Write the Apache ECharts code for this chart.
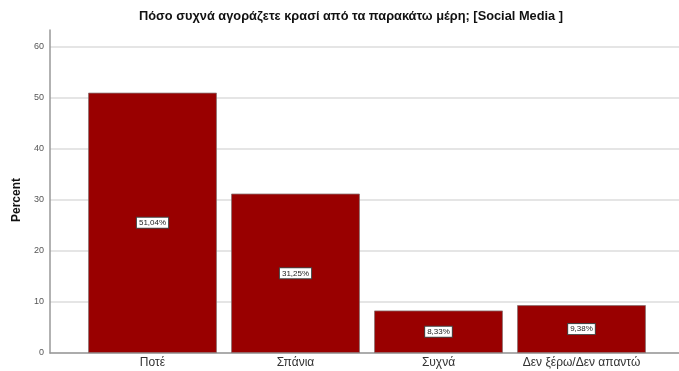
<!DOCTYPE html>
<html>
<head>
<meta charset="utf-8">
<script src="https://cdn.jsdelivr.net/npm/echarts@6/dist/echarts.min.js"></script>
<style>
  html, body { margin: 0; padding: 0; background: #fff; }
  #main { width: 679px; height: 371px; }
</style>
</head>
<body>
<div id="main"></div>
<script>
// data
var categories = ["Ποτέ", "Σπάνια", "Συχνά", "Δεν ξέρω/Δεν απαντώ"];
var percents = [51.04, 31.25, 8.33, 9.38];
var yTicks = [0, 10, 20, 30, 40, 50, 60];

var chart = echarts.init(document.getElementById("main"));

var yMin = yTicks[0];
var yMax = yTicks[yTicks.length - 1];

chart.setOption({
  animation: false,
  title: {
    text: "Πόσο συχνά αγοράζετε κρασί από τα παρακάτω μέρη; [Social Media ]",
    left: 346,
    textAlign: "center",
    top: 5,
    textStyle: { fontFamily: "Liberation Sans", fontSize: 12.8, fontWeight: "bold", color: "#111" }
  },
  grid: [
    // axis line that runs above the top tick
    { left: 50, right: 0, top: 30, bottom: 18 },
    // gridlines and tick labels
    { left: 50, right: 0, top: 47, bottom: 18 },
    // bars
    { left: 81, right: 26, top: 47, bottom: 18 }
  ],
  xAxis: [
    { gridIndex: 0, type: "value", show: false },
    {
      gridIndex: 1, type: "value", min: 0, max: 1,
      axisLine: { show: true, lineStyle: { color: "#999", width: 1.5 } },
      axisTick: { show: false }, axisLabel: { show: false }, splitLine: { show: false }
    },
    {
      gridIndex: 2, type: "category", data: categories,
      axisLine: { show: false }, axisTick: { show: false },
      axisLabel: { interval: 0, fontFamily: "Liberation Sans", fontSize: 12, color: "#333", margin: 4 }
    }
  ],
  yAxis: [
    {
      gridIndex: 0, type: "value", min: 0, max: 1,
      axisLine: { show: true, lineStyle: { color: "#999", width: 1.5 } },
      axisTick: { show: false }, axisLabel: { show: false }, splitLine: { show: false }
    },
    {
      gridIndex: 1, type: "value", min: yMin, max: yMax, interval: 10,
      name: "Percent", nameLocation: "middle", nameGap: 23, nameRotate: 90,
      nameTextStyle: { fontFamily: "Liberation Sans", fontSize: 12, fontWeight: "bold", color: "#111" },
      axisLine: { show: false },
      axisTick: { show: false },
      axisLabel: { fontFamily: "Liberation Sans", fontSize: 9, color: "#555", margin: 6 },
      splitLine: { lineStyle: { color: "#dcdcdc", width: 1.5 } }
    },
    {
      gridIndex: 2, type: "value", min: yMin, max: yMax, show: false, splitLine: { show: false }
    }
  ],
  series: [
    {
      type: "bar",
      xAxisIndex: 2,
      yAxisIndex: 2,
      data: percents,
      barCategoryGap: "10%",
      itemStyle: { color: "#990000", borderColor: "#8a7070", borderWidth: 0.8 },
      label: {
        show: true,
        position: "inside",
        formatter: function (p) { return p.value.toFixed(2).replace(".", ",") + "%"; },
        fontFamily: "Liberation Sans",
        fontSize: 8,
        color: "#222",
        backgroundColor: "#fff",
        borderColor: "#444",
        borderWidth: 1,
        padding: [1, 2]
      }
    }
  ]
});
</script>
</body>
</html>
